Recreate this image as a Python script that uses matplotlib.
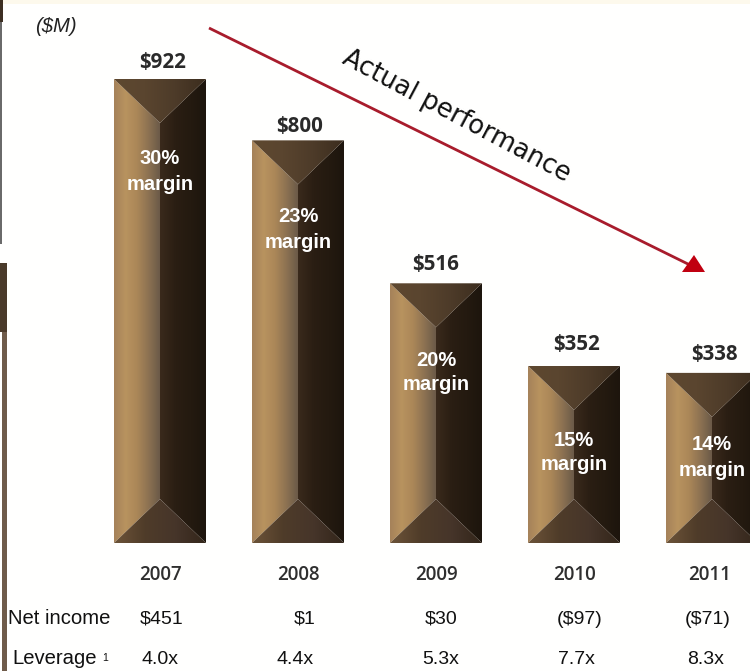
import matplotlib
matplotlib.use('Agg')
import matplotlib.pyplot as plt
import numpy as np
from matplotlib.colors import LinearSegmentedColormap
from matplotlib.patches import Polygon, Rectangle
from matplotlib.transforms import Affine2D

years = ['2007', '2008', '2009', '2010', '2011']
revenue = [922, 800, 516, 352, 338]
revenue_labels = ['$922', '$800', '$516', '$352', '$338']
margins = ['30%', '23%', '20%', '15%', '14%']
net_income = ['$451', '$1', '$30', '($97)', '($71)']
leverage = ['4.0x', '4.4x', '5.3x', '7.7x', '8.3x']

W, H = 750, 671
BASE_Y = 543
PX_PER_UNIT = 0.5033
STEP = 138
FIRST_X = 160
HALF_W = 46 / STEP
BEVEL = 44 / PX_PER_UNIT

# text rows, in pixels from the top left corner
value_x = [163, 300, 436, 577, 714]
value_y = [62, 127, 265, 344, 354]
margin_y = [(159, 185), (217, 243), (360, 384), (440, 465), (445, 470)]
year_x = [160, 298, 436, 574, 710]
income_x = [162, 305, 441, 580, 708]
lever_x = [160, 295, 441, 576, 706]

left_cm = LinearSegmentedColormap.from_list('left', ['#a5825a', '#b8935f', '#ab8758', '#8d7252', '#6b5a48'])
right_cm = LinearSegmentedColormap.from_list('right', ['#3a2a1c', '#2a1e13', '#241a10', '#1d150d'])
top_cm = LinearSegmentedColormap.from_list('top', ['#5e4830', '#5a452f', '#4d3b29', '#3c2d1e'])
bottom_cm = LinearSegmentedColormap.from_list('bottom', ['#6d5439', '#4f3c29', '#46352a', '#33261a'])

fig = plt.figure(figsize=(W / 100, H / 100), dpi=100, facecolor='#fffffe')
ax = fig.add_axes([0, 0, 1, 1])
ax.axis('off')

# screen pixels with y running downward
px = Affine2D().scale(1, -1).translate(0, H)
grad = np.linspace(0, 1, 128).reshape(1, -1)


def face(points, cmap, extent):
    poly = Polygon(points, closed=True, transform=ax.transData, fc='none', ec='none')
    ax.add_patch(poly)
    im = ax.imshow(grad, cmap=cmap, extent=extent, aspect='auto', zorder=2, interpolation='bilinear')
    im.set_clip_path(poly)


def draw_bar(i, val):
    l, r = i - HALF_W, i + HALF_W
    top_in, bot_in = val - BEVEL, BEVEL
    face([(l, 0), (i, bot_in), (i, top_in), (l, val)], left_cm, (l, i, 0, val))
    face([(r, 0), (i, bot_in), (i, top_in), (r, val)], right_cm, (i, r, 0, val))
    face([(l, val), (r, val), (i, top_in)], top_cm, (l, r, top_in, val))
    face([(l, 0), (r, 0), (i, bot_in)], bottom_cm, (l, r, 0, bot_in))


for i, val in enumerate(revenue):
    draw_bar(i, val)
ax.set_xlim(-FIRST_X / STEP, (W - FIRST_X) / STEP)
ax.set_ylim(-(H - BASE_Y) / PX_PER_UNIT, BASE_Y / PX_PER_UNIT)

for i in range(5):
    ax.text(value_x[i], value_y[i], revenue_labels[i], transform=px, ha='center', va='center',
            fontsize=14.8, family='Open Sans', weight='bold', color='#2a2a2a', zorder=5)
    cx = ax.transData.transform((i, 0))[0]
    ax.text(cx, margin_y[i][0], margins[i], transform=px, ha='center', va='center',
            fontsize=14.5, family='Liberation Sans', weight='bold', color='white', zorder=5)
    ax.text(cx, margin_y[i][1], 'margin', transform=px, ha='center', va='center',
            fontsize=14.5, family='Liberation Sans', weight='bold', color='white', zorder=5)
    ax.text(year_x[i], 575, years[i], transform=px, ha='center', va='center',
            fontsize=13.5, family='Open Sans', weight='semibold', color='#2f2f2f', zorder=5)
    ax.text(income_x[i], 619, net_income[i], transform=px, ha='center', va='center',
            fontsize=14, family='Liberation Sans', color='#111111', zorder=5)
    ax.text(lever_x[i], 659, leverage[i], transform=px, ha='center', va='center',
            fontsize=14, family='Liberation Sans', color='#111111', zorder=5)

ax.text(8, 619, 'Net income', transform=px, ha='left', va='center', fontsize=14.6,
        family='Liberation Sans', color='#111111')
ax.text(12, 659, 'Leverage', transform=px, ha='left', va='center', fontsize=14.6,
        family='Liberation Sans', color='#111111')
ax.text(102, 658, '1', transform=px, ha='left', va='center', fontsize=7.5,
        family='Liberation Sans', color='#111111')
ax.text(35, 27, '($M)', transform=px, ha='left', va='center', fontsize=14.6,
        family='Liberation Sans', style='italic', color='#222222')

# trend arrow and its caption
ax.plot([209, 692], [28, 266], transform=px, color='#a81c2c', lw=2.0, solid_capstyle='butt', zorder=4)
ax.add_patch(Polygon([(694, 255), (705, 272), (682, 272)], closed=True, transform=px,
                     fc='#c00010', ec='none', zorder=4))
ax.text(456, 116, 'Actual performance', transform=px, ha='center', va='center', rotation=-28,
        rotation_mode='anchor', fontsize=18.5, family='DejaVu Sans', color='#111111', zorder=5)

# page furniture along the left and top edges
ax.add_patch(Rectangle((0, 0), W, 4, transform=px, fc='#fdf9ec', ec='none', zorder=1))
ax.add_patch(Rectangle((0, 0), 3, 22, transform=px, fc='#3d2f22', ec='none', zorder=1))
ax.add_patch(Rectangle((0, 22), 1.5, 222, transform=px, fc='#6a6a6a', ec='none', zorder=1))
ax.add_patch(Rectangle((0, 263), 7, 69, transform=px, fc='#4a3a2a', ec='none', zorder=1))
ax.add_patch(Rectangle((2, 332), 5, 339, transform=px, fc='#6f5b4a', ec='none', zorder=1))

fig.savefig('out.png', dpi=100, facecolor=fig.get_facecolor())
